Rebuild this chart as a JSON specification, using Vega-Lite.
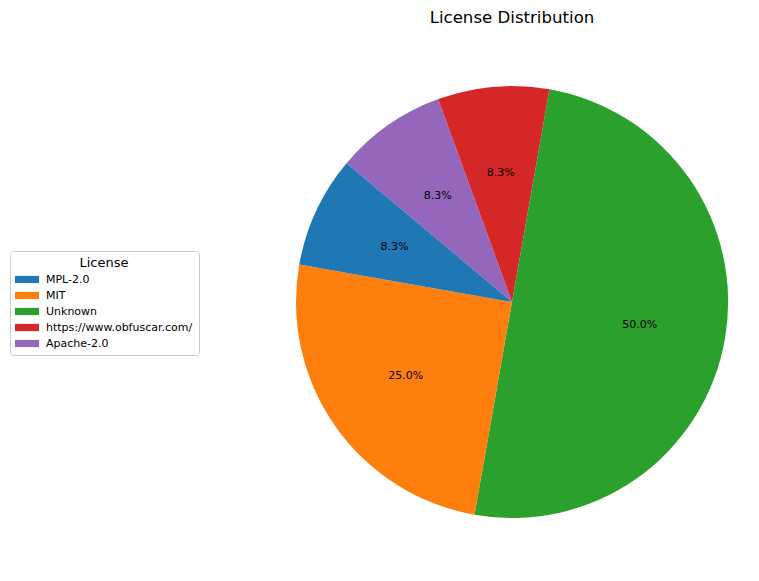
{
  "$schema": "https://vega.github.io/schema/vega-lite/v6.json",
  "width": 494,
  "height": 464,
  "autosize": {"type": "none"},
  "padding": {"left": 265, "top": 70, "right": 0, "bottom": 47},
  "background": "white",
  "title": {"text": "License Distribution", "font": "DejaVu Sans", "fontSize": 16.6, "fontWeight": "normal", "color": "black", "offset": 43, "anchor": "middle"},
  "data": {"values": [
    {"license": "Apache-2.0", "count": 1, "ord": 1},
    {"license": "https://www.obfuscar.com/", "count": 1, "ord": 2},
    {"license": "Unknown", "count": 6, "ord": 3},
    {"license": "MIT", "count": 3, "ord": 4},
    {"license": "MPL-2.0", "count": 1, "ord": 5}
  ]},
  "transform": [
    {"joinaggregate": [{"op": "sum", "field": "count", "as": "total"}]},
    {"calculate": "format(datum.count / datum.total, '.1%')", "as": "pct"}
  ],
  "encoding": {
    "theta": {"field": "count", "type": "quantitative", "stack": true, "scale": {"range": [-0.8727, 5.4105]}},
    "order": {"field": "ord", "type": "quantitative", "sort": "ascending"}
  },
  "layer": [
    {
      "mark": {"type": "arc", "outerRadius": 216},
      "encoding": {
        "color": {"field": "license", "type": "nominal",
          "scale": {"domain": ["MPL-2.0", "MIT", "Unknown", "https://www.obfuscar.com/", "Apache-2.0"],
                    "range": ["#1f77b4", "#ff7f0e", "#2ca02c", "#d62728", "#9467bd"]},
          "legend": {"title": "License", "orient": "none", "legendX": -255, "legendY": 181}}
      }
    },
    {
      "mark": {"type": "text", "radius": 129.6, "font": "DejaVu Sans", "fontSize": 11, "color": "black"},
      "encoding": {"text": {"field": "pct", "type": "nominal"}}
    }
  ],
  "config": {
    "view": {"stroke": null},
    "legend": {
      "strokeColor": "#cccccc", "fillColor": "white", "cornerRadius": 3, "padding": 6,
      "titleFont": "DejaVu Sans", "titleFontSize": 13, "titleFontWeight": "normal", "titleColor": "black", "titleAnchor": "middle", "titlePadding": 4,
      "labelFont": "DejaVu Sans", "labelFontSize": 11, "labelColor": "black", "labelOffset": 13.5,
      "symbolType": "M-3,-0.9H3V0.9H-3Z", "symbolSize": 64, "symbolStrokeWidth": 0, "symbolOpacity": 1, "symbolOffset": 5.5,
      "rowPadding": 4
    }
  }
}
